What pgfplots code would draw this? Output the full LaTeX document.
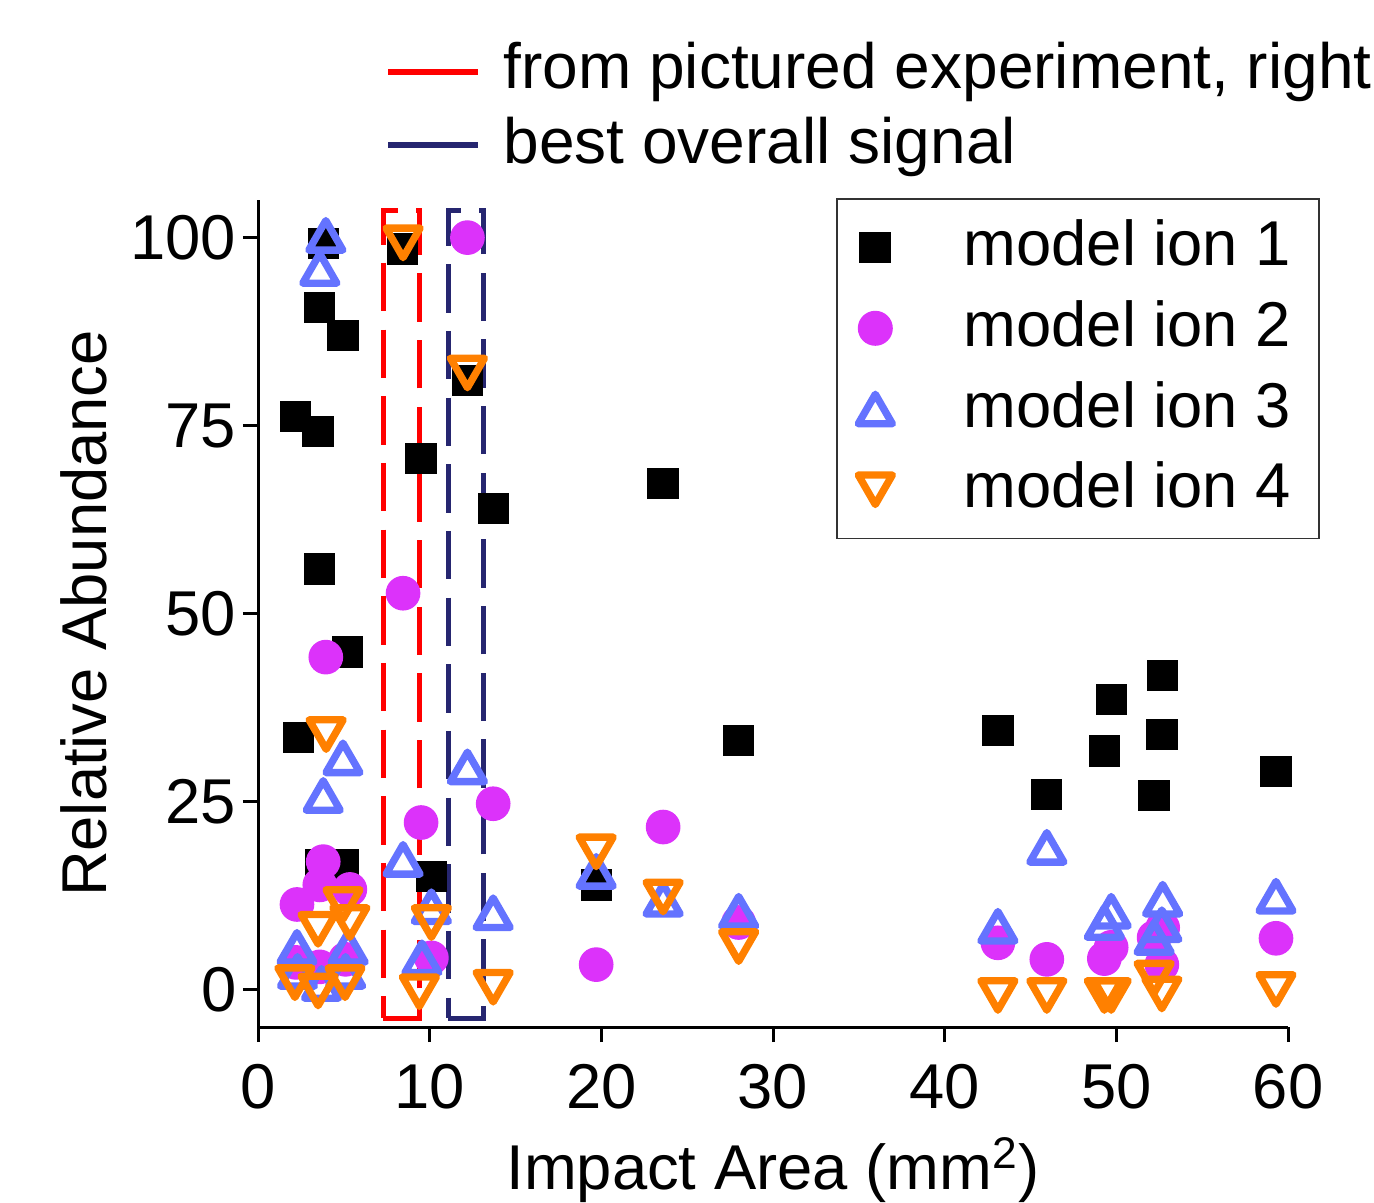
\documentclass[border=0pt]{standalone}
\usepackage{pgfplots}
\pgfplotsset{compat=1.18}
\usepackage{fontspec}
\setmainfont{Liberation Sans}

\definecolor{ionmag}{RGB}{220,50,250}
\definecolor{ionblue}{RGB}{100,115,255}
\definecolor{ionorange}{RGB}{255,128,0}
\definecolor{boxnavy}{RGB}{38,38,112}

% open triangles centred on their bounding box, with a fixed outline width
\pgfdeclareplotmark{triup}{%
  \pgfsetlinewidth{2.2pt}\pgfsetroundjoin
  \pgfpathmoveto{\pgfqpoint{0pt}{0.75\pgfplotmarksize}}%
  \pgfpathlineto{\pgfqpoint{-0.866\pgfplotmarksize}{-0.75\pgfplotmarksize}}%
  \pgfpathlineto{\pgfqpoint{0.866\pgfplotmarksize}{-0.75\pgfplotmarksize}}%
  \pgfpathclose\pgfusepathqstroke}
\pgfdeclareplotmark{tridown}{%
  \pgfsetlinewidth{2.2pt}\pgfsetroundjoin
  \pgfpathmoveto{\pgfqpoint{0pt}{-0.75\pgfplotmarksize}}%
  \pgfpathlineto{\pgfqpoint{-0.866\pgfplotmarksize}{0.75\pgfplotmarksize}}%
  \pgfpathlineto{\pgfqpoint{0.866\pgfplotmarksize}{0.75\pgfplotmarksize}}%
  \pgfpathclose\pgfusepathqstroke}

\begin{document}
\fontsize{19}{22}\selectfont
\begin{tikzpicture}
\begin{axis}[
    scale only axis,
    width=309pt, height=248.1pt,
    xmin=0, xmax=60, ymin=-5, ymax=105,
    axis lines*=left,
    axis line style={line width=0.9pt},
    xtick={0,10,...,60},
    ytick={0,25,50,75,100},
    tick align=outside,
    major tick length=4.5pt,
    tick style={line width=0.9pt, black},
    yticklabel style={xshift=4.5pt},
    /pgf/number format/assume math mode=true,
    xlabel={Impact Area (mm\textsuperscript{2})},
    ylabel={Relative Abundance},
    xlabel style={at={(axis description cs:0.5,-0.196)}, anchor=base},
    ylabel style={at={(axis description cs:-0.1466,0.5)}, anchor=base},
    clip=false,
    legend cell align=left,
    legend style={at={(1.031,1.0024)}, anchor=north east,
        draw=black!80, line width=0.5pt,
        row sep=3.6pt, column sep=19.4pt, inner xsep=6.4pt, inner ysep=4.3pt},
]
\coordinate (o) at (rel axis cs:0,0);

% highlighted regions
\addplot[red, line width=1.5pt, dash pattern=on 14.5pt off 5.5pt, line join=miter, forget plot]
    coordinates {(7.3,-3.85) (9.43,-3.85) (9.43,103.6) (7.3,103.6) (7.3,-3.85)};
\addplot[boxnavy, line width=1.5pt, dash pattern=on 14.5pt off 5.5pt, line join=miter, forget plot]
    coordinates {(11.07,-3.85) (13.16,-3.85) (13.16,103.6) (11.07,103.6) (11.07,-3.85)};

% model ion 1
\addplot[only marks, mark=square*, mark size=4.5pt, black] coordinates {
(2.2,76.2) (2.35,33.5) (3.5,74.2) (3.6,90.7) (3.6,55.9) (3.67,16.6) (3.8,99.2)
(4.95,87.0) (5.2,44.9) (4.95,16.6) (8.4,98.5) (9.5,70.6) (10.1,15.0) (12.2,81.0)
(13.7,64.0) (19.7,13.9) (23.6,67.3) (28.0,33.1) (43.1,34.4) (45.95,25.9)
(49.3,31.7) (49.7,38.6) (52.2,25.8) (52.65,33.9) (52.7,41.8) (59.3,29.0)
};
\addlegendentry{model ion 1}

% model ion 2
\addplot[only marks, mark=*, mark size=5pt, ionmag, mark options={draw=none, fill=ionmag}] coordinates {
(2.27,11.3) (2.2,3.6) (3.6,13.9) (3.8,17.0) (3.95,44.2) (3.6,3.0) (5.35,13.3)
(5.1,4.0) (8.45,52.7) (9.5,22.2) (10.1,4.2) (12.2,100) (13.7,24.7) (19.7,3.3)
(23.6,21.6) (28.0,8.9) (43.1,6.2) (45.95,4.0) (49.3,4.1) (49.7,5.6) (52.2,6.9)
(52.7,8.2) (52.65,3.3) (59.3,6.8)
};
\addlegendentry{model ion 2}

% model ion 3
\addplot[only marks, mark=triup, mark size=5.9pt, ionblue] coordinates {
(3.95,100.3) (3.6,95.9) (4.95,30.8) (3.8,25.8) (2.27,5.6) (5.25,5.6) (2.3,2.4)
(5.1,2.4) (3.7,0.8) (8.45,17.3) (9.55,4.2) (10.1,11.0) (12.2,29.6) (13.7,10.2)
(19.7,15.7) (23.6,12.0) (28.0,10.4) (43.1,8.4) (45.95,18.9) (49.3,8.9)
(49.7,10.4) (52.2,6.9) (52.65,8.6) (52.7,12.0) (59.3,12.4)
};
\addlegendentry{model ion 3}

% model ion 4
\addplot[only marks, mark=tridown, mark size=5.9pt, ionorange] coordinates {
(3.97,33.9) (4.95,11.3) (5.35,8.9) (3.5,8.0) (2.15,0.9) (3.5,-0.2) (5.07,0.9)
(8.45,99.3) (9.4,-0.3) (10.1,8.9) (12.2,82.0) (13.7,0.3) (19.7,18.3) (23.6,12.3)
(28.0,5.7) (43.1,-0.8) (45.95,-0.8) (49.3,-0.8) (49.7,-0.8) (52.2,1.5)
(52.65,-0.6) (59.3,0.0)
};
\addlegendentry{model ion 4}
\end{axis}

% legend for the highlighted regions, in pixel units of the picture
\begin{scope}[shift={(o)}, x=0.3pt, y=-0.3pt, shift={(-258,-1027)}]
\draw[red, line width=1.6pt] (388,72) -- (478,72);
\node[anchor=base west, inner sep=0pt] at (503,88) {\fontsize{19.2}{22}\selectfont from pictured experiment, right};
\draw[boxnavy, line width=1.6pt] (388,145) -- (478,145);
\node[anchor=base west, inner sep=0pt] at (503,163) {\fontsize{19.2}{22}\selectfont best overall signal};
\pgfresetboundingbox
\path (0,0) rectangle (1374,1202);
\end{scope}
\end{tikzpicture}
\end{document}
